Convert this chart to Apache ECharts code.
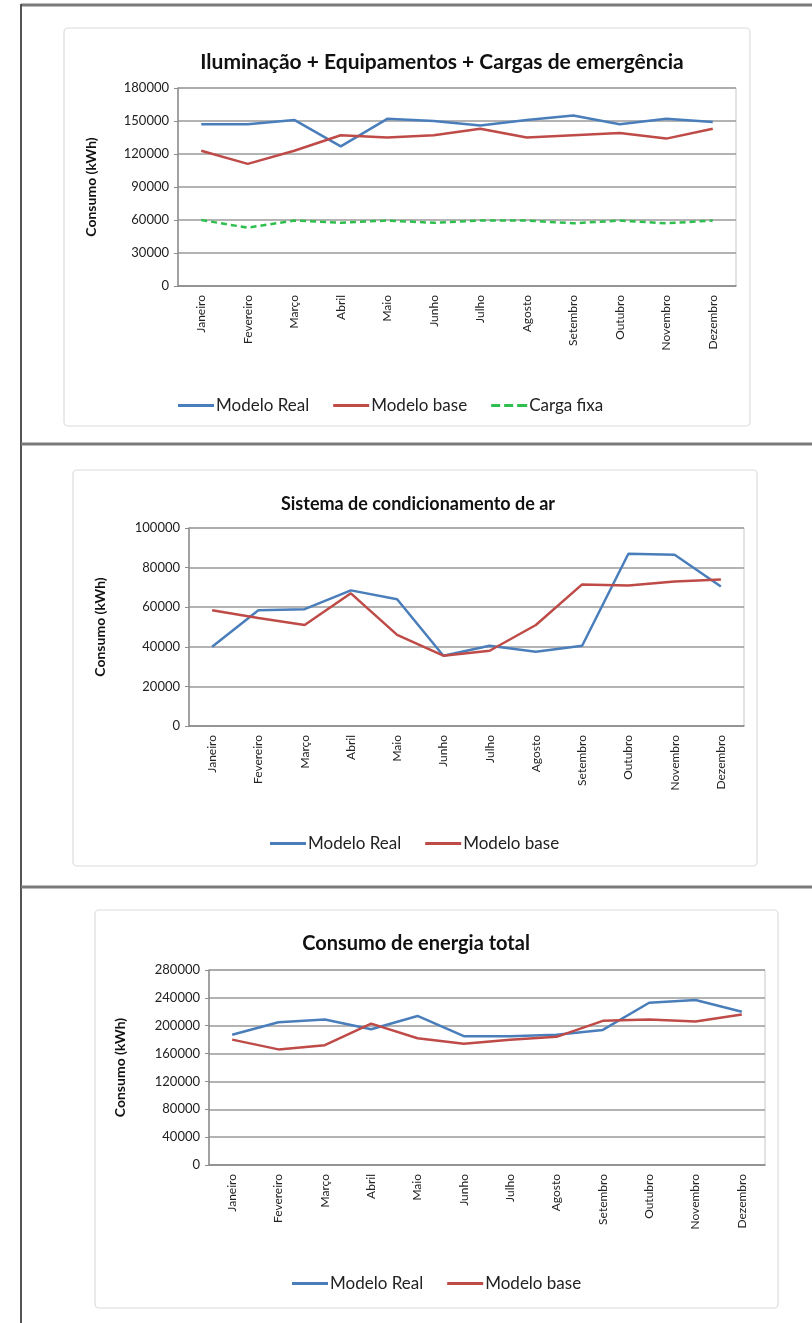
<!DOCTYPE html>
<html>
<head>
<meta charset="utf-8">
<script src="https://cdn.jsdelivr.net/npm/echarts@6/dist/echarts.min.js"></script>
<style>
  html, body { margin: 0; padding: 0; background: #fff; }
  #main { width: 812px; height: 1323px; }
</style>
</head>
<body>
<div id="main"></div>
<script>
// meses (eixo x, comum aos tres graficos)
var meses = ['Janeiro', 'Fevereiro', 'Março', 'Abril', 'Maio', 'Junho', 'Julho', 'Agosto', 'Setembro', 'Outubro', 'Novembro', 'Dezembro']

// grafico 1 - Iluminacao + Equipamentos + Cargas de emergencia
var ilumReal = [147000, 147000, 151000, 127000, 152000, 150000, 146000, 151000, 155000, 147000, 152000, 149000]
var ilumBase = [123000, 111000, 123000, 137000, 135000, 137000, 143000, 135000, 137000, 139000, 134000, 143000]
var cargaFixa = [60000, 53000, 59500, 57500, 59500, 57500, 59500, 59500, 57000, 59500, 57000, 59500]

// grafico 2 - Sistema de condicionamento de ar
var arReal = [40000, 58500, 59000, 68500, 64000, 35500, 40500, 37500, 40500, 87000, 86500, 70500]
var arBase = [58500, 54500, 51000, 67000, 46000, 35500, 38000, 51000, 71500, 71000, 73000, 74000]

// grafico 3 - Consumo de energia total
var totalReal = [187000, 205000, 209000, 195000, 214000, 185000, 185000, 187000, 194000, 233000, 237000, 220000]
var totalBase = [180000, 166000, 172000, 203000, 182000, 174000, 180000, 184000, 207000, 209000, 206000, 216000]

var titulos = ['Iluminação + Equipamentos + Cargas de emergência', 'Sistema de condicionamento de ar', 'Consumo de energia total']
var nomeEixoY = 'Consumo (kWh)'

var azul = '#4a7ebb'
var vermelho = '#be4b48'
var verde = '#2fbf4f'
var fonte = 'Lato, "Open Sans", sans-serif'

// icones da legenda (linha cheia / tracejada)
var iconeLinha = 'path://M0,0h36v3h-36z'
var iconeTracejado = 'path://M0,0h9v3h-9z M13,0h9v3h-9z M26,0h10v3h-10z'

var myChart = echarts.init(document.getElementById('main'))

function eixoX(i) {
  return {
    type: 'category', gridIndex: i, data: meses, boundaryGap: true,
    axisLine: { lineStyle: { color: '#8c8c8c', width: 1.5 } },
    axisTick: { show: false },
    axisLabel: { rotate: 90, color: '#222', fontSize: 12, fontFamily: fonte, margin: 9, interval: 0 }
  }
}
function eixoY(i, max, step, gap) {
  return {
    type: 'value', gridIndex: i, min: 0, max: max, interval: step,
    name: nomeEixoY, nameLocation: 'middle', nameRotate: 90, nameGap: gap,
    nameTextStyle: { color: '#111', fontSize: 14, fontWeight: 'bold', fontFamily: fonte },
    axisLine: { show: true, lineStyle: { color: '#8c8c8c', width: 1.5 } },
    axisTick: { show: true, length: 4, lineStyle: { color: '#8c8c8c' } },
    axisLabel: { color: '#222', fontSize: 13, fontFamily: fonte, margin: 9, formatter: function (v) { return String(v) } },
    splitLine: { lineStyle: { color: '#9a9a9a', width: 1.5 } }
  }
}
function serie(nome, dados, i, cor, tracejado) {
  return {
    name: nome, type: 'line', xAxisIndex: i, yAxisIndex: i, data: dados,
    symbol: 'none', smooth: false,
    lineStyle: { color: cor, width: 2.5, type: tracejado ? [6, 4] : 'solid' },
    itemStyle: { color: cor }
  }
}
function legenda(top, left, nomes) {
  return {
    top: top, left: left, itemWidth: 36, itemHeight: 3, itemGap: 24,
    data: nomes.map(function (n) { return { name: n, icon: n === 'Carga fixa' ? iconeTracejado : iconeLinha } }),
    textStyle: { color: '#222', fontSize: 17, fontFamily: fonte, padding: [0, 0, 0, -3] }
  }
}
function caixa(x, y, w, h) {
  return { type: 'rect', shape: { x: x, y: y, width: w, height: h, r: 4 }, style: { fill: '#fff', stroke: '#dcdcdc', lineWidth: 1.2 }, z: -10 }
}
function linha(x1, y1, x2, y2, w, cor) {
  return { type: 'line', shape: { x1: x1, y1: y1, x2: x2, y2: y2 }, style: { stroke: cor, lineWidth: w }, z: 100 }
}

var option = {
  backgroundColor: '#fff',
  animation: false,
  title: [
    { text: titulos[0], left: 437, top: 47, textAlign: 'center', textStyle: { fontSize: 21, fontWeight: 'bold', color: '#111', fontFamily: fonte } },
    { text: titulos[1], left: 413, top: 490, textAlign: 'center', textStyle: { fontSize: 18, fontWeight: 'bold', color: '#111', fontFamily: fonte } },
    { text: titulos[2], left: 411, top: 929, textAlign: 'center', textStyle: { fontSize: 20, fontWeight: 'bold', color: '#111', fontFamily: fonte } }
  ],
  legend: [
    legenda(392, 173, ['Modelo Real', 'Modelo base', 'Carga fixa']),
    legenda(830, 265, ['Modelo Real', 'Modelo base']),
    legenda(1270, 287, ['Modelo Real', 'Modelo base'])
  ],
  grid: [
    { left: 178, top: 88, width: 558, height: 198, show: true, borderColor: '#c8c8c8', borderWidth: 1 },
    { left: 189, top: 528, width: 555, height: 198, show: true, borderColor: '#c8c8c8', borderWidth: 1 },
    { left: 209, top: 970, width: 556, height: 195, show: true, borderColor: '#c8c8c8', borderWidth: 1 }
  ],
  xAxis: [eixoX(0), eixoX(1), eixoX(2)],
  yAxis: [eixoY(0, 180000, 30000, 80), eixoY(1, 100000, 20000, 82), eixoY(2, 280000, 40000, 82)],
  series: [
    serie('Modelo Real', ilumReal, 0, azul),
    serie('Modelo base', ilumBase, 0, vermelho),
    serie('Carga fixa', cargaFixa, 0, verde, true),
    serie('Modelo Real', arReal, 1, azul),
    serie('Modelo base', arBase, 1, vermelho),
    serie('Modelo Real', totalReal, 2, azul),
    serie('Modelo base', totalBase, 2, vermelho)
  ],
  graphic: [
    caixa(64, 28, 686, 398),
    caixa(73, 470, 684, 396),
    caixa(95, 910, 683, 398),
    linha(21, 5, 812, 5, 3, '#7a7a7a'),
    linha(21, 4, 21, 1323, 2, '#555'),
    linha(21, 444, 812, 444, 3, '#7a7a7a'),
    linha(21, 887, 812, 887, 3, '#7a7a7a')
  ]
}
myChart.setOption(option)
</script>
</body>
</html>
